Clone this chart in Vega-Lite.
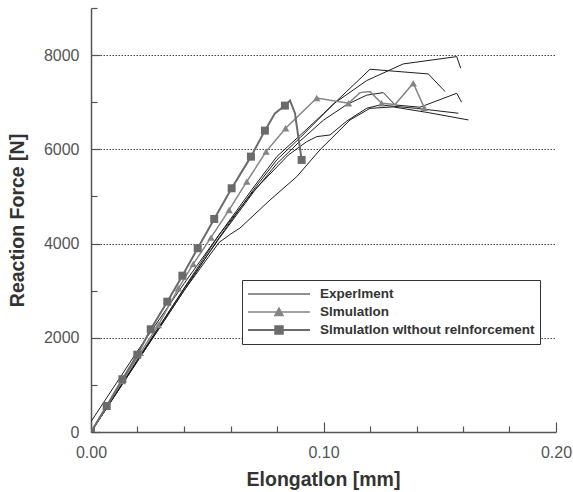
{
  "$schema": "https://vega.github.io/schema/vega-lite/v6.json",
  "width": 465,
  "height": 424,
  "autosize": {"type": "none"},
  "padding": {"left": 91, "top": 8, "right": 17, "bottom": 60},
  "background": "white",
  "config": {"view": {"stroke": null}, "font": "Liberation Sans"},
  "datasets": {
    "curves": [
      {"s": "Experlment", "c": "E1", "x": 0, "y": 0},
      {"s": "Experlment", "c": "E1", "x": 0.02, "y": 1520},
      {"s": "Experlment", "c": "E1", "x": 0.04, "y": 3050},
      {"s": "Experlment", "c": "E1", "x": 0.055, "y": 4180},
      {"s": "Experlment", "c": "E1", "x": 0.07, "y": 5200},
      {"s": "Experlment", "c": "E1", "x": 0.08, "y": 5850},
      {"s": "Experlment", "c": "E1", "x": 0.09, "y": 6300},
      {"s": "Experlment", "c": "E1", "x": 0.10, "y": 6760},
      {"s": "Experlment", "c": "E1", "x": 0.11, "y": 7230},
      {"s": "Experlment", "c": "E1", "x": 0.12, "y": 7700},
      {"s": "Experlment", "c": "E1", "x": 0.1451, "y": 7600},
      {"s": "Experlment", "c": "E1", "x": 0.1523, "y": 7225},
      {"s": "Experlment", "c": "E2", "x": 0, "y": 0},
      {"s": "Experlment", "c": "E2", "x": 0.02, "y": 1500},
      {"s": "Experlment", "c": "E2", "x": 0.04, "y": 3000},
      {"s": "Experlment", "c": "E2", "x": 0.055, "y": 4120},
      {"s": "Experlment", "c": "E2", "x": 0.07, "y": 5150},
      {"s": "Experlment", "c": "E2", "x": 0.08, "y": 5780},
      {"s": "Experlment", "c": "E2", "x": 0.09, "y": 6250},
      {"s": "Experlment", "c": "E2", "x": 0.1047, "y": 6980},
      {"s": "Experlment", "c": "E2", "x": 0.1186, "y": 7460},
      {"s": "Experlment", "c": "E2", "x": 0.1343, "y": 7813},
      {"s": "Experlment", "c": "E2", "x": 0.1573, "y": 7968},
      {"s": "Experlment", "c": "E2", "x": 0.159, "y": 7722},
      {"s": "Experlment", "c": "E3", "x": 0, "y": 0},
      {"s": "Experlment", "c": "E3", "x": 0.02, "y": 1540},
      {"s": "Experlment", "c": "E3", "x": 0.04, "y": 3040},
      {"s": "Experlment", "c": "E3", "x": 0.055, "y": 4100},
      {"s": "Experlment", "c": "E3", "x": 0.07, "y": 5100},
      {"s": "Experlment", "c": "E3", "x": 0.08, "y": 5700},
      {"s": "Experlment", "c": "E3", "x": 0.09, "y": 6180},
      {"s": "Experlment", "c": "E3", "x": 0.10, "y": 6620},
      {"s": "Experlment", "c": "E3", "x": 0.11, "y": 6950},
      {"s": "Experlment", "c": "E3", "x": 0.1186, "y": 7150},
      {"s": "Experlment", "c": "E3", "x": 0.1257, "y": 7204},
      {"s": "Experlment", "c": "E3", "x": 0.1308, "y": 6942},
      {"s": "Experlment", "c": "E3", "x": 0.1415, "y": 6894},
      {"s": "Experlment", "c": "E3", "x": 0.1573, "y": 7190},
      {"s": "Experlment", "c": "E3", "x": 0.1594, "y": 7000},
      {"s": "Experlment", "c": "E4", "x": 0, "y": 220},
      {"s": "Experlment", "c": "E4", "x": 0.02, "y": 1720},
      {"s": "Experlment", "c": "E4", "x": 0.04, "y": 3150},
      {"s": "Experlment", "c": "E4", "x": 0.055, "y": 4180},
      {"s": "Experlment", "c": "E4", "x": 0.07, "y": 5120},
      {"s": "Experlment", "c": "E4", "x": 0.0849, "y": 5880},
      {"s": "Experlment", "c": "E4", "x": 0.0928, "y": 6163},
      {"s": "Experlment", "c": "E4", "x": 0.0971, "y": 6270},
      {"s": "Experlment", "c": "E4", "x": 0.1028, "y": 6305},
      {"s": "Experlment", "c": "E4", "x": 0.11, "y": 6600},
      {"s": "Experlment", "c": "E4", "x": 0.1186, "y": 6872},
      {"s": "Experlment", "c": "E4", "x": 0.1243, "y": 6942},
      {"s": "Experlment", "c": "E4", "x": 0.14, "y": 6870},
      {"s": "Experlment", "c": "E4", "x": 0.158, "y": 6766},
      {"s": "Experlment", "c": "E5", "x": 0, "y": 0},
      {"s": "Experlment", "c": "E5", "x": 0.02, "y": 1510},
      {"s": "Experlment", "c": "E5", "x": 0.04, "y": 3000},
      {"s": "Experlment", "c": "E5", "x": 0.055, "y": 4020},
      {"s": "Experlment", "c": "E5", "x": 0.06, "y": 4200},
      {"s": "Experlment", "c": "E5", "x": 0.0641, "y": 4330},
      {"s": "Experlment", "c": "E5", "x": 0.077, "y": 4925},
      {"s": "Experlment", "c": "E5", "x": 0.0885, "y": 5420},
      {"s": "Experlment", "c": "E5", "x": 0.0985, "y": 5990},
      {"s": "Experlment", "c": "E5", "x": 0.1114, "y": 6624},
      {"s": "Experlment", "c": "E5", "x": 0.12, "y": 6870},
      {"s": "Experlment", "c": "E5", "x": 0.13, "y": 6900},
      {"s": "Experlment", "c": "E5", "x": 0.145, "y": 6780},
      {"s": "Experlment", "c": "E5", "x": 0.1623, "y": 6624},
      {"s": "Slmulatlon", "c": "S1", "x": 0, "y": 0, "m": true},
      {"s": "Slmulatlon", "c": "S1", "x": 0.0067, "y": 540, "m": true},
      {"s": "Slmulatlon", "c": "S1", "x": 0.0134, "y": 1080, "m": true},
      {"s": "Slmulatlon", "c": "S1", "x": 0.0212, "y": 1680, "m": true},
      {"s": "Slmulatlon", "c": "S1", "x": 0.029, "y": 2272, "m": true},
      {"s": "Slmulatlon", "c": "S1", "x": 0.0376, "y": 3051, "m": true},
      {"s": "Slmulatlon", "c": "S1", "x": 0.044, "y": 3567, "m": true},
      {"s": "Slmulatlon", "c": "S1", "x": 0.0516, "y": 4126, "m": true},
      {"s": "Slmulatlon", "c": "S1", "x": 0.0594, "y": 4713, "m": true},
      {"s": "Slmulatlon", "c": "S1", "x": 0.067, "y": 5314, "m": true},
      {"s": "Slmulatlon", "c": "S1", "x": 0.0753, "y": 5951, "m": true},
      {"s": "Slmulatlon", "c": "S1", "x": 0.0837, "y": 6447, "m": true},
      {"s": "Slmulatlon", "c": "S1", "x": 0.0971, "y": 7090, "m": true},
      {"s": "Slmulatlon", "c": "S1", "x": 0.1107, "y": 6978, "m": true},
      {"s": "Slmulatlon", "c": "S1", "x": 0.1157, "y": 7204, "m": false},
      {"s": "Slmulatlon", "c": "S1", "x": 0.12, "y": 7225, "m": false},
      {"s": "Slmulatlon", "c": "S1", "x": 0.125, "y": 6978, "m": true},
      {"s": "Slmulatlon", "c": "S1", "x": 0.1308, "y": 6950, "m": false},
      {"s": "Slmulatlon", "c": "S1", "x": 0.1386, "y": 7403, "m": true},
      {"s": "Slmulatlon", "c": "S1", "x": 0.1434, "y": 6880, "m": true},
      {"s": "Slmulatlon wlthout relnforcement", "c": "S2", "x": 0, "y": 0, "m": true},
      {"s": "Slmulatlon wlthout relnforcement", "c": "S2", "x": 0.00675, "y": 552, "m": true},
      {"s": "Slmulatlon wlthout relnforcement", "c": "S2", "x": 0.0135, "y": 1119, "m": true},
      {"s": "Slmulatlon wlthout relnforcement", "c": "S2", "x": 0.0199, "y": 1641, "m": true},
      {"s": "Slmulatlon wlthout relnforcement", "c": "S2", "x": 0.0257, "y": 2180, "m": true},
      {"s": "Slmulatlon wlthout relnforcement", "c": "S2", "x": 0.0328, "y": 2766, "m": true},
      {"s": "Slmulatlon wlthout relnforcement", "c": "S2", "x": 0.0393, "y": 3318, "m": true},
      {"s": "Slmulatlon wlthout relnforcement", "c": "S2", "x": 0.0459, "y": 3900, "m": true},
      {"s": "Slmulatlon wlthout relnforcement", "c": "S2", "x": 0.053, "y": 4522, "m": true},
      {"s": "Slmulatlon wlthout relnforcement", "c": "S2", "x": 0.0605, "y": 5174, "m": true},
      {"s": "Slmulatlon wlthout relnforcement", "c": "S2", "x": 0.0688, "y": 5845, "m": true},
      {"s": "Slmulatlon wlthout relnforcement", "c": "S2", "x": 0.0748, "y": 6397, "m": true},
      {"s": "Slmulatlon wlthout relnforcement", "c": "S2", "x": 0.0791, "y": 6764, "m": false},
      {"s": "Slmulatlon wlthout relnforcement", "c": "S2", "x": 0.0834, "y": 6928, "m": true},
      {"s": "Slmulatlon wlthout relnforcement", "c": "S2", "x": 0.0856, "y": 7034, "m": false},
      {"s": "Slmulatlon wlthout relnforcement", "c": "S2", "x": 0.0877, "y": 6772, "m": false},
      {"s": "Slmulatlon wlthout relnforcement", "c": "S2", "x": 0.0906, "y": 5775, "m": true}
    ]
  },
  "layer": [
    {
      "data": {"name": "curves"},
      "mark": {"type": "line", "clip": true},
      "encoding": {
        "x": {
          "field": "x", "type": "quantitative",
          "scale": {"domain": [0, 0.2], "nice": false},
          "axis": {
            "values": [0, 0.01, 0.02, 0.03, 0.04, 0.05, 0.06, 0.07, 0.08, 0.09, 0.1, 0.11, 0.12, 0.13, 0.14, 0.15, 0.16, 0.17, 0.18, 0.19, 0.2],
            "format": ".2f",
            "labelExpr": "abs(round(datum.value*100)) % 5 === 0 ? datum.label : ''",
            "labelOverlap": false,
            "labelFlush": false,
            "labelFontSize": 16,
            "labelColor": "#555555",
            "labelPadding": 22,
            "tickSize": {"condition": {"test": "abs(round(datum.value*100)) % 5 === 0", "value": -10}, "value": -6},
            "tickColor": "#555555",
            "tickWidth": 1.2,
            "domainColor": "#555555",
            "domainWidth": 1.5,
            "grid": false,
            "title": "Elongatlon [mm]",
            "titleFontSize": 19.5,
            "titleFontWeight": "bold",
            "titleColor": "#333333",
            "titleX": 232,
            "titleY": 47,
            "titleBaseline": "middle"
          }
        },
        "y": {
          "field": "y", "type": "quantitative",
          "scale": {"domain": [0, 9000], "nice": false},
          "axis": {
            "values": [0, 500, 1000, 1500, 2000, 2500, 3000, 3500, 4000, 4500, 5000, 5500, 6000, 6500, 7000, 7500, 8000, 8500, 9000],
            "format": "d",
            "labelExpr": "datum.value % 2000 === 0 ? datum.label : ''",
            "labelOverlap": false,
            "labelFlush": false,
            "labelFontSize": 16,
            "labelColor": "#555555",
            "labelPadding": 21,
            "tickSize": {"condition": {"test": "datum.value % 2000 === 0", "value": -9}, "value": -6},
            "tickColor": "#555555",
            "tickWidth": 1.2,
            "domainColor": "#555555",
            "domainWidth": 1.5,
            "grid": true,
            "gridColor": "#444444",
            "gridDash": [1.5, 1.5],
            "gridWidth": 1,
            "gridOpacity": {"condition": {"test": "datum.value % 2000 === 0 && datum.value > 0 && datum.value < 9000", "value": 1}, "value": 0},
            "title": "Reaction Force [N]",
            "titleFontSize": 19.5,
            "titleFontWeight": "bold",
            "titleColor": "#333333",
            "titleX": -74,
            "titleY": 212,
            "titleAngle": -90,
            "titleAlign": "center",
            "titleBaseline": "middle"
          }
        },
        "color": {
          "field": "s", "type": "nominal",
          "scale": {"domain": ["Experlment", "Slmulatlon", "Slmulatlon wlthout relnforcement"], "range": ["#1e1e1e", "#858585", "#6b6b6b"]},
          "legend": {
            "title": null,
            "orient": "none",
            "legendX": 151,
            "legendY": 272,
            "strokeColor": "#333333",
            "fillColor": "white",
            "padding": 5,
            "symbolSize": 3844,
            "clipHeight": 18,
            "rowPadding": 0,
            "labelFontSize": 13.5,
            "labelFontWeight": "bold",
            "labelColor": "#333333",
            "labelOffset": 9,
            "labelLimit": 400,
            "encode": {
              "symbols": {
                "update": {
                  "shape": {"signal": "datum.value === 'Experlment' ? 'M-1,0H1' : (datum.value === 'Slmulatlon' ? 'M-1,0H1M-0.13,0.11L0,-0.13L0.13,0.11Z' : 'M-1,0H1M-0.12,-0.12H0.12V0.12H-0.12Z')"},
                  "fill": {"signal": "datum.value === 'Experlment' ? 'transparent' : (datum.value === 'Slmulatlon' ? '#858585' : '#6b6b6b')"},
                  "strokeWidth": {"signal": "datum.value === 'Experlment' ? 1 : 2"}
                }
              }
            }
          }
        },
        "strokeWidth": {
          "field": "s", "type": "nominal",
          "scale": {"domain": ["Experlment", "Slmulatlon", "Slmulatlon wlthout relnforcement"], "range": [1, 2, 2.5]},
          "legend": null
        },
        "detail": {"field": "c"}
      }
    },
    {
      "data": {"name": "curves"},
      "transform": [{"filter": "datum.m === true"}],
      "mark": {"type": "point", "filled": true, "opacity": 1, "clip": true},
      "encoding": {
        "x": {"field": "x", "type": "quantitative"},
        "y": {"field": "y", "type": "quantitative"},
        "shape": {
          "field": "s", "type": "nominal",
          "scale": {"domain": ["Slmulatlon", "Slmulatlon wlthout relnforcement"], "range": ["triangle-up", "square"]},
          "legend": null
        },
        "fill": {
          "field": "s", "type": "nominal",
          "scale": {"domain": ["Slmulatlon", "Slmulatlon wlthout relnforcement"], "range": ["#858585", "#6b6b6b"]},
          "legend": null
        },
        "size": {
          "field": "s", "type": "nominal",
          "scale": {"domain": ["Slmulatlon", "Slmulatlon wlthout relnforcement"], "range": [55, 64]},
          "legend": null
        }
      }
    }
  ]
}
